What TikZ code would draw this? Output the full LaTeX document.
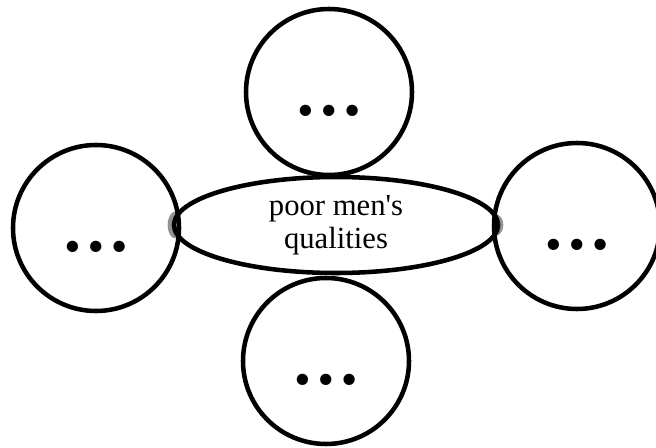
\documentclass[tikz,border=0pt]{standalone}
\usepackage{fontspec}
\setmainfont{Liberation Serif}
\newfontfamily\plainserif{Liberation Serif}
\usepackage{tikz}
\usetikzlibrary{shapes.geometric}
\tikzset{
  bubble/.style={draw, circle, line width=3.4pt, inner sep=0pt, minimum size=124.5pt,
    font=\fontsize{52}{52}\selectfont\bfseries, text height=36pt, text depth=0pt},
  hub/.style={draw, ellipse, fill=white, line width=3.4pt, inner sep=0pt,
    minimum width=243pt, minimum height=72pt, align=center,
    font=\plainserif\fontsize{23}{24.75}\selectfont},
  blob/.style={fill=gray!85}
}

\begin{document}
\begin{tikzpicture}[x=0.75pt,y=-0.75pt]
\useasboundingbox (0,0) rectangle (656,448);
\coordinate (bl) at (175,225);
\coordinate (br) at (496,225);
\fill[blob] (bl) ellipse [x radius=5.5pt, y radius=10pt];
\fill[blob] (br) ellipse [x radius=5.5pt, y radius=8pt];
\node[hub] (quals) at (336,225) {poor men's\\qualities};
\node[bubble] (up) at (329,92) {\char"2026};
\node[bubble] (down) at (326,361) {\char"2026};
\node[bubble] (lt) at (96,228) {\char"2026};
\node[bubble] (rt) at (577,226) {\char"2026};
\end{tikzpicture}
\end{document}
